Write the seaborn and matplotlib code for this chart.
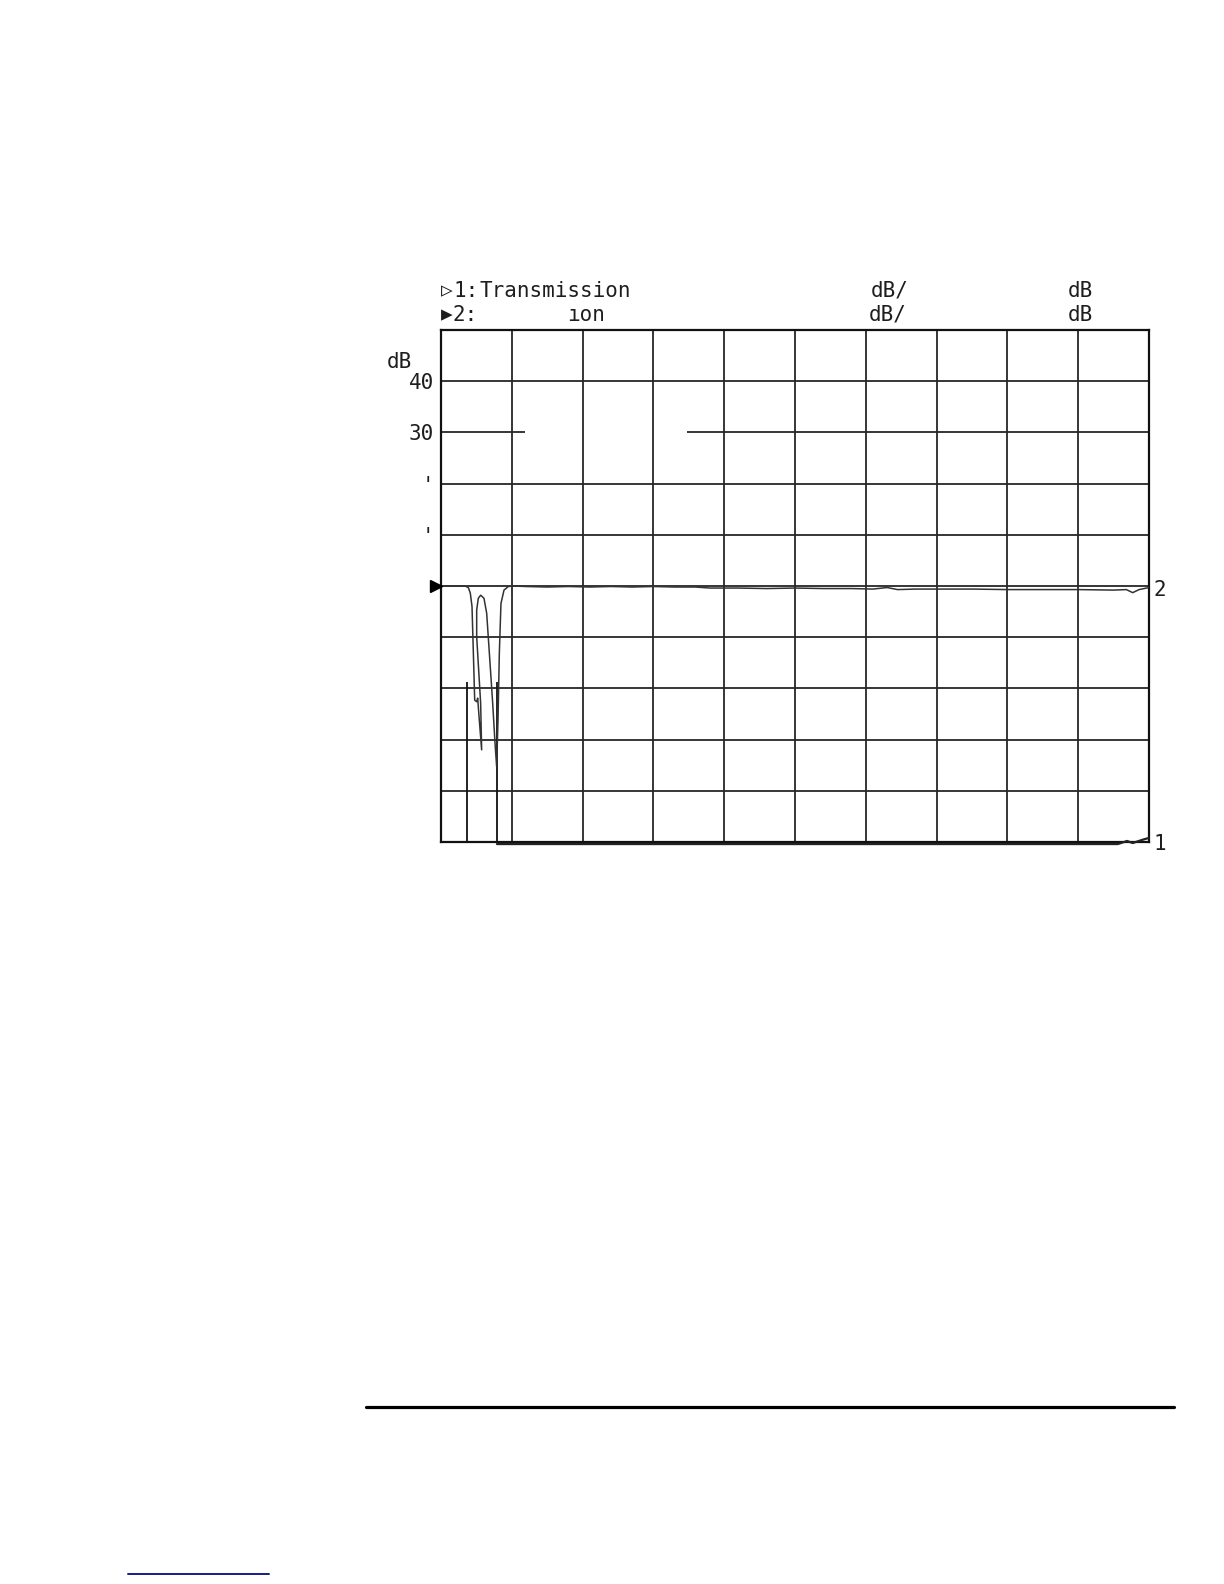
import numpy as np
import pandas as pd
import matplotlib
matplotlib.use("Agg")
import matplotlib.pyplot as plt
from matplotlib.lines import Line2D
import seaborn as sns

# ---------------- data (x in graticule divisions 0..10, y in dB) ----------------
# trace 2 is listed in the order the plotter pen drew it
trace2_x = [0.0, 0.2, 0.339, 0.386, 0.414, 0.438, 0.457, 0.476, 0.504, 0.518, 0.541,
            0.574, 0.560, 0.504, 0.504, 0.527, 0.560, 0.607, 0.645, 0.683, 0.730,
            0.763, 0.786, 0.805, 0.824, 0.847, 0.890, 0.951, 1.02,
            1.2, 1.5, 1.8, 2.1, 2.4, 2.7, 3.0, 3.3, 3.59, 3.8, 4.2, 4.6, 5.0, 5.4,
            5.8, 6.1, 6.3, 6.45, 6.7, 7.0, 7.5, 8.0, 8.5, 9.0, 9.5, 9.68, 9.77, 9.86, 10.0]
trace2_y = [0.0, 0.0, 0.0, -0.3, -1.4, -4.0, -13.1, -22.3, -22.6, -21.9, -26.2,
            -32.0, -22.9, -9.9, -4.7, -2.4, -1.8, -2.4, -5.3, -13.1, -22.9,
            -30.7, -35.3, -26.2, -13.1, -3.4, -0.8, -0.1, 0.0,
            -0.1, -0.2, -0.1, -0.2, -0.1, -0.2, -0.1, -0.2, -0.2, -0.4, -0.4, -0.5, -0.4, -0.5,
            -0.5, -0.6, -0.3, -0.7, -0.6, -0.6, -0.6, -0.7, -0.7, -0.7, -0.8, -0.7, -1.3, -0.7, -0.3]

trace1_x = [0.79, 2.0, 4.0, 6.0, 8.0, 9.56, 9.69, 9.77, 9.9, 10.0]
trace1_y = [-50.4, -50.4, -50.4, -50.4, -50.4, -50.4, -49.8, -50.2, -49.6, -49.2]

ytick_vals = [40, 30, 20, 10]
ytick_labels = ["40", "30", "'", "'"]
grid_x = [1, 2, 3, 4, 5, 6, 7, 8, 9]
grid_y = [40, 20, 10, 0, -10, -20, -30, -40]
grid30_segments = [(0.0, 1.19), (3.47, 10.0)]
artifact_x = [0.363, 0.786]
artifact_y = (-18.7, -50.0)

header_row1 = [("▷", 441), ("1:", 453), ("Transmission", 479), ("dB/", 871), ("dB", 1068)]
header_row2 = [("▶", 441), ("2:", 453), ("ıon", 567), ("dB/", 869), ("dB", 1068)]

# ---------------- figure ----------------
sns.set_theme(style="white")
plt.rcParams["font.family"] = ["DejaVu Sans Mono", "DejaVu Sans"]

W, H = 1224, 1584
fig = plt.figure(figsize=(W / 100, H / 100), dpi=100)
fig.patch.set_facecolor("white")

L, R, T, B = 441, 1149, 330, 842
ax = fig.add_axes([L / W, 1 - B / H, (R - L) / W, (B - T) / H])
ax.set_facecolor("white")
ax.set_xlim(0, 10)
ax.set_ylim(-50, 50)

gcol = "#262626"
for x in grid_x:
    ax.axvline(x, color=gcol, lw=1.3, zorder=1)
for y in grid_y:
    ax.axhline(y, color=gcol, lw=1.3, zorder=1)
for a, b in grid30_segments:
    ax.hlines(30, a, b, color=gcol, lw=1.3, zorder=1)
ax.vlines(artifact_x, artifact_y[1], artifact_y[0], color="#111111", lw=1.3, zorder=1)

for s in ax.spines.values():
    s.set_color("#111111")
    s.set_linewidth(1.6)

df2 = pd.DataFrame({"x": trace2_x, "y": trace2_y})
df1 = pd.DataFrame({"x": trace1_x, "y": trace1_y})
sns.lineplot(data=df2, x="x", y="y", ax=ax, color="#333333", lw=1.1, sort=False,
             estimator=None, zorder=3)
sns.lineplot(data=df1, x="x", y="y", ax=ax, color="#222222", lw=1.6, sort=False,
             estimator=None, zorder=3)
ax.lines[-1].set_clip_on(False)

txtcol = "#1e1e1e"
ax.set_xticks([])
ax.set_yticks(ytick_vals)
ax.set_yticklabels(ytick_labels, fontsize=15, color=txtcol)
ax.tick_params(axis="y", length=0, pad=5)
ax.set_xlabel("")
ax.set_ylabel("")

# reference marker
ax.plot([-0.07], [0], marker=">", color="black", ms=9, clip_on=False, zorder=5)

# trace labels at the right
ax.text(10.06, -0.8, "2", fontsize=15, va="center", ha="left", color=txtcol)
ax.text(10.06, -50.3, "1", fontsize=15, va="center", ha="left", color=txtcol)

# dB unit label
fig.text(399 / W, 1 - 362 / H, "dB", fontsize=15, ha="center", va="center", color=txtcol)

# header
for txt, px in header_row1:
    fs = 14 if txt in ("▷", "▶") else 15
    fig.text(px / W, 1 - 291 / H, txt, fontsize=fs, ha="left", va="center", color=txtcol)
for txt, px in header_row2:
    fs = 14 if txt in ("▷", "▶") else 15
    fig.text(px / W, 1 - 315 / H, txt, fontsize=fs, ha="left", va="center", color=txtcol)

# page rules
fig.add_artist(Line2D([366 / W, 1174 / W], [1 - 1407 / H, 1 - 1407 / H],
                      transform=fig.transFigure, color="black", lw=2.3))
fig.add_artist(Line2D([128 / W, 269 / W], [1 - 1574 / H, 1 - 1574 / H],
                      transform=fig.transFigure, color="#1a1a8a", lw=1.4))

fig.savefig("out.png", dpi=100, facecolor="white")
